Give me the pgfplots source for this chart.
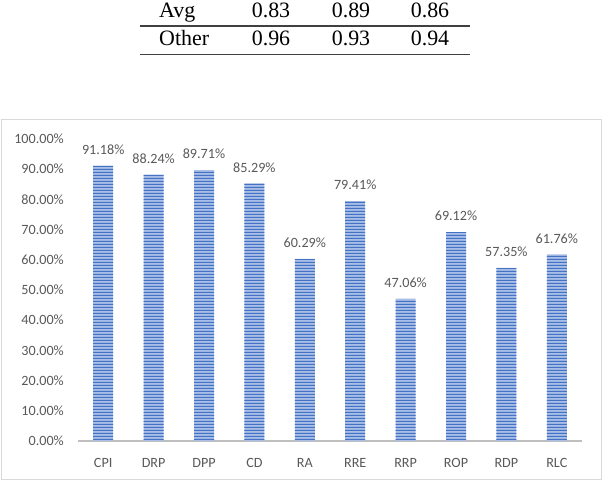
\documentclass[border=0pt]{standalone}
\usepackage{pgfplots}
\pgfplotsset{compat=1.18}
\usepackage{fontspec}
\setmainfont{Carlito}
\newfontfamily\timesfont{Liberation Serif}
\usetikzlibrary{patterns}
\pgfdeclarepatternformonly{hstripes}{\pgfpointorigin}{\pgfpoint{640bp}{3bp}}{\pgfpoint{640bp}{3bp}}{%
  \pgfpathrectangle{\pgfpoint{0bp}{0bp}}{\pgfpoint{640bp}{1.6bp}}\pgfusepath{fill}}
\definecolor{barblue}{HTML}{4472C4}
\definecolor{barlight}{HTML}{A9BEE6}
\definecolor{txtgray}{HTML}{595959}
\definecolor{axgray}{HTML}{BFBFBF}
\definecolor{boxgray}{HTML}{D9D9D9}
\begin{document}
\begin{tikzpicture}[x=1bp,y=1bp]
\useasboundingbox (0,0) rectangle (602,482);
% partial table above the chart
\draw[line width=1.2bp, color=black!75] (140,456) -- (470,456);
\draw[line width=1.2bp, color=black!75] (140,427.5) -- (470,427.5);
\begin{scope}[every node/.style={inner sep=0pt, font=\timesfont\fontsize{22}{26}\selectfont}]
\node[anchor=base west] at (159,464) {Avg};
\node[anchor=base] at (271,464) {0.83};
\node[anchor=base] at (351,464) {0.89};
\node[anchor=base] at (430,464) {0.86};
\node[anchor=base west] at (159,436.3) {Other};
\node[anchor=base] at (271,436.3) {0.96};
\node[anchor=base] at (351,436.3) {0.93};
\node[anchor=base] at (430,436.3) {0.94};
\end{scope}
% chart frame
\draw[boxgray, line width=1bp] (1,2) rectangle (601,362);
\begin{axis}[
  at={(78bp,41bp)}, anchor=south west,
  scale only axis, width=504bp, height=302bp,
  xmin=-0.5, xmax=9.5, ymin=0, ymax=100,
  axis x line=bottom, axis y line=left,
  x axis line style={-, draw=axgray, line width=1.3bp},
  y axis line style={draw=none},
  major tick length=0pt,
  xtick={0,...,9},
  xticklabels={CPI,DRP,DPP,CD,RA,RRE,RRP,ROP,RDP,RLC},
  ytick={0,10,...,100},
  /pgf/number format/assume math mode=true,
  yticklabel={\pgfmathprintnumber[fixed,fixed zerofill,precision=2]{\tick}\%},
  ticklabel style={font=\fontsize{14.2}{17}\selectfont, text=txtgray},
  yticklabel style={anchor=east, inner sep=0pt, xshift=-14bp},
  xticklabel style={anchor=north, inner sep=0pt, yshift=-17bp},
  clip=false,
]
\addplot[ybar, bar width=20bp, bar shift=0pt, draw=none, fill=barlight,
  postaction={pattern=hstripes, pattern color=barblue},
  nodes near coords={\pgfmathprintnumber[fixed,fixed zerofill,precision=2]{\pgfplotspointmeta}\%},
  nodes near coords style={font=\fontsize{14.2}{17}\selectfont, text=txtgray, anchor=south, inner sep=0pt, yshift=11bp},
] coordinates {
(0,91.18) (1,88.24) (2,89.71) (3,85.29) (4,60.29)
(5,79.41) (6,47.06) (7,69.12) (8,57.35) (9,61.76)
};
\end{axis}
\end{tikzpicture}
\end{document}
